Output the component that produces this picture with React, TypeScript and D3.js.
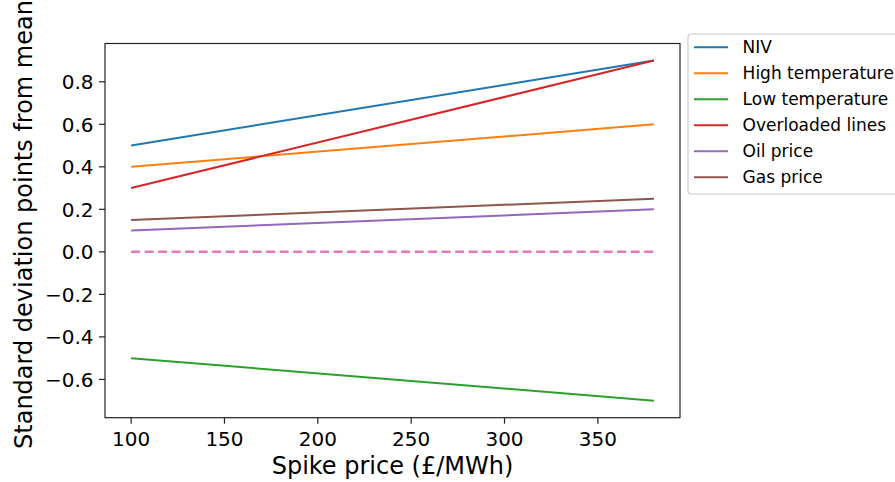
import React from "react";
import * as d3 from "d3";

const spikePrices = [100, 380];
const seriesNames = ["NIV", "High temperature", "Low temperature", "Overloaded lines", "Oil price", "Gas price"];
const nivValues = [0.5, 0.9];
const highTempValues = [0.4, 0.6];
const lowTempValues = [-0.5, -0.7];
const overloadedValues = [0.3, 0.9];
const oilValues = [0.1, 0.2];
const gasValues = [0.15, 0.25];
const baselineValues = [0, 0];
const seriesColors = ["#1f77b4", "#ff7f0e", "#2ca02c", "#d62728", "#9467bd", "#8c564b"];
const xTicks = [100, 150, 200, 250, 300, 350];
const yTicks = [-0.6, -0.4, -0.2, 0.0, 0.2, 0.4, 0.6, 0.8];

const W = 895;
const H = 482;
const left = 105;
const right = 680;
const top = 43.5;
const bottom = 417.7;
const FONT = "'DejaVu Sans', sans-serif";

export default function App() {
  const allSeries = [nivValues, highTempValues, lowTempValues, overloadedValues, oilValues, gasValues];
  const x = d3.scaleLinear().domain([86, 394]).range([left, right]);
  const y = d3.scaleLinear().domain([-0.78, 0.98]).range([bottom, top]);
  const line = d3
    .line<[number, number]>()
    .x((d) => x(d[0]))
    .y((d) => y(d[1]));
  const pts = (vals: number[]) => spikePrices.map((p, i) => [p, vals[i]] as [number, number]);

  const legX = 688;
  const legY = 34;
  const rowH = 26;

  return (
    <svg
      width={W}
      height={H}
      style={{ position: "absolute", left: 0, top: 0, background: "#fff" }}
      fontFamily={FONT}
    >
      <rect x={0} y={0} width={W} height={H} fill="#fff" />
      <defs>
        <clipPath id="plotclip">
          <rect x={left} y={top} width={right - left} height={bottom - top} />
        </clipPath>
      </defs>
      <g clipPath="url(#plotclip)">
        {allSeries.map((vals, i) => (
          <path
            key={seriesNames[i]}
            d={line(pts(vals)) || ""}
            fill="none"
            stroke={seriesColors[i]}
            strokeWidth={2}
          />
        ))}
        <path
          d={line(pts(baselineValues)) || ""}
          fill="none"
          stroke="#e377c2"
          strokeWidth={2.5}
          strokeDasharray="9,4.5"
        />
      </g>
      {/* spines */}
      <rect x={left} y={top} width={right - left} height={bottom - top} fill="none" stroke="#222" strokeWidth={1.2} />
      {/* x ticks */}
      {xTicks.map((t) => (
        <g key={"x" + t}>
          <line x1={x(t)} x2={x(t)} y1={bottom} y2={bottom + 6} stroke="#222" strokeWidth={1.2} />
          <text x={x(t)} y={446} fontSize={20} textAnchor="middle" fill="#000">
            {t}
          </text>
        </g>
      ))}
      {/* y ticks */}
      {yTicks.map((t) => (
        <g key={"y" + t}>
          <line x1={left - 6} x2={left} y1={y(t)} y2={y(t)} stroke="#222" strokeWidth={1.2} />
          <text x={93.6} y={y(t) + 7.3} fontSize={20} textAnchor="end" fill="#000">
            {t.toFixed(1).replace("-", "\u2212")}
          </text>
        </g>
      ))}
      <text x={(left + right) / 2} y={474} fontSize={24} textAnchor="middle" fill="#000">
        Spike price (£/MWh)
      </text>
      <text
        transform={`translate(32, 224.5) rotate(-90)`}
        fontSize={24}
        textAnchor="middle"
        fill="#000"
      >
        Standard deviation points from mean
      </text>
      {/* legend */}
      <rect
        x={legX}
        y={legY}
        width={240}
        height={160}
        rx={3}
        fill="#fff"
        fillOpacity={0.8}
        stroke="#cccccc"
        strokeWidth={1.2}
      />
      {seriesNames.map((n, i) => (
        <g key={"leg" + n}>
          <line
            x1={694}
            x2={728}
            y1={legY + 13.3 + i * rowH}
            y2={legY + 13.3 + i * rowH}
            stroke={seriesColors[i]}
            strokeWidth={2}
          />
          <text x={742.6} y={legY + 13.3 + i * rowH + 6} fontSize={17} fill="#000">
            {n}
          </text>
        </g>
      ))}
    </svg>
  );
}
